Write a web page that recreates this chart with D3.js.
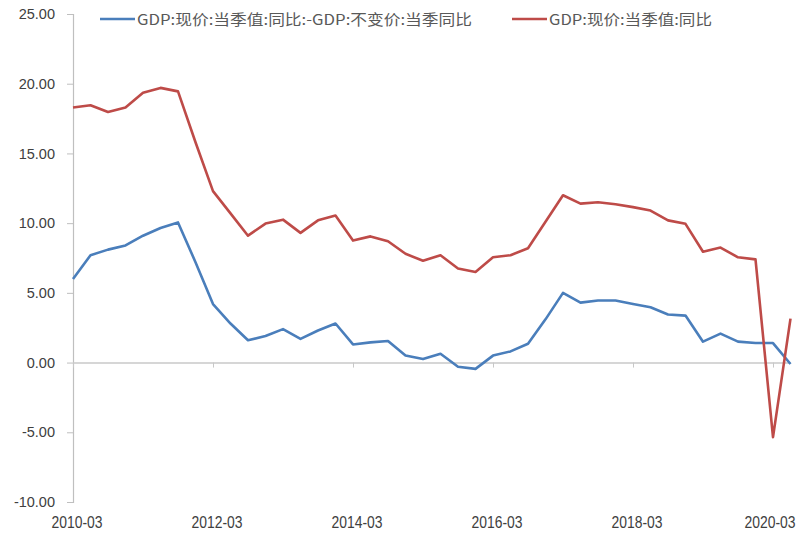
<!DOCTYPE html>
<html>
<head>
<meta charset="utf-8">
<script src="https://cdn.jsdelivr.net/npm/d3@7"></script>
<style>
  body { margin: 0; background: #fff; }
  svg { display: block; }
</style>
</head>
<body>
<div id="chart"></div>
<script>
// 季度
const quarters = [
  '2010-03','2010-06','2010-09','2010-12','2011-03','2011-06','2011-09','2011-12',
  '2012-03','2012-06','2012-09','2012-12','2013-03','2013-06','2013-09','2013-12',
  '2014-03','2014-06','2014-09','2014-12','2015-03','2015-06','2015-09','2015-12',
  '2016-03','2016-06','2016-09','2016-12','2017-03','2017-06','2017-09','2017-12',
  '2018-03','2018-06','2018-09','2018-12','2019-03','2019-06','2019-09','2019-12',
  '2020-03','2020-06'
];

// GDP:现价:当季值:同比 - GDP:不变价:当季同比
const diffSeries = [
  6.0, 7.7, 8.1, 8.4, 9.1, 9.65, 10.05, 7.2,
  4.2, 2.8, 1.6, 1.9, 2.4, 1.7, 2.3, 2.8,
  1.3, 1.45, 1.55, 0.5, 0.25, 0.63, -0.3, -0.45,
  0.5, 0.8, 1.35, 3.1, 5.0, 4.3, 4.45, 4.45,
  4.2, 3.97, 3.45, 3.37, 1.5, 2.08, 1.5, 1.4,
  1.4, -0.1
];

// GDP:现价:当季值:同比
const nominalSeries = [
  18.3, 18.45, 17.97, 18.3, 19.36, 19.7, 19.45, 15.8,
  12.3, 10.7, 9.1, 9.97, 10.25, 9.3, 10.2, 10.55,
  8.75, 9.05, 8.7, 7.8, 7.3, 7.7, 6.75, 6.5,
  7.55, 7.7, 8.2, 10.1, 12.0, 11.4, 11.5, 11.35,
  11.15, 10.9, 10.2, 9.95, 7.95, 8.25, 7.55, 7.4,
  -5.35, 3.15
];

const yTicks = [25, 20, 15, 10, 5, 0, -5, -10];
const xTickLabels = ['2010-03', '2012-03', '2014-03', '2016-03', '2018-03', '2020-03'];

const seriesNames = ['GDP:现价:当季值:同比:-GDP:不变价:当季同比', 'GDP:现价:当季值:同比'];

const width = 802;
const height = 537;

const svg = d3.select('#chart')
  .append('svg')
  .attr('width', width)
  .attr('height', height);

const x = d3.scalePoint()
  .domain(quarters)
  .range([73, 790.5])
  .padding(0);

const y = d3.scaleLinear()
  .domain([-10, 25])
  .range([502, 14]);

// y axis
const yAxis = d3.axisLeft(y)
  .tickValues(yTicks)
  .tickSize(6)
  .tickPadding(12)
  .tickFormat(d => d.toFixed(2));

const gy = svg.append('g')
  .attr('transform', 'translate(73,0)')
  .call(yAxis);
gy.select('.domain').attr('stroke', '#bfbfbf').attr('stroke-width', 1.2);
gy.selectAll('.tick line').attr('stroke', '#bfbfbf');
gy.selectAll('.tick text')
  .attr('fill', '#404040')
  .style('font-family', '"Liberation Sans", Arial, sans-serif')
  .style('font-size', '14.5px');

// x axis at zero line
const xAxis = d3.axisBottom(x)
  .tickValues(xTickLabels)
  .tickSize(5)
  .tickFormat('');

const gx = svg.append('g')
  .attr('transform', `translate(0,${y(0)})`)
  .call(xAxis);
gx.select('.domain').attr('stroke', '#c8c8c8').attr('stroke-width', 1.5)
  .attr('d', `M73,0.5H790.5`);
gx.selectAll('.tick line').attr('stroke', '#c8c8c8');

// x labels at bottom (low position), condensed like the original
svg.append('g')
  .selectAll('text')
  .data(xTickLabels)
  .enter()
  .append('text')
  .attr('x', d => Math.min(x(d) + 4, 770))
  .attr('y', 528)
  .attr('text-anchor', 'middle')
  .attr('fill', '#404040')
  .attr('textLength', 51)
  .attr('lengthAdjust', 'spacingAndGlyphs')
  .style('font-family', '"Liberation Sans", Arial, sans-serif')
  .style('font-size', '16px')
  .text(d => d);

// lines
const line = d3.line()
  .x((d, i) => x(quarters[i]))
  .y(d => y(d));

svg.append('path')
  .datum(diffSeries)
  .attr('fill', 'none')
  .attr('stroke', '#4a7ebb')
  .attr('stroke-width', 2.6)
  .attr('stroke-linejoin', 'round')
  .attr('d', line);

svg.append('path')
  .datum(nominalSeries)
  .attr('fill', 'none')
  .attr('stroke', '#be4b48')
  .attr('stroke-width', 2.6)
  .attr('stroke-linejoin', 'round')
  .attr('d', line);

// legend
const legendItems = [
  { name: seriesNames[0], color: '#4a7ebb', x: 100, len: 335 },
  { name: seriesNames[1], color: '#be4b48', x: 512, len: 163 }
];

const legend = svg.append('g');
legendItems.forEach(item => {
  legend.append('line')
    .attr('x1', item.x)
    .attr('x2', item.x + 35)
    .attr('y1', 19)
    .attr('y2', 19)
    .attr('stroke', item.color)
    .attr('stroke-width', 2.6);
  legend.append('text')
    .attr('x', item.x + 37)
    .attr('y', 24.5)
    .attr('fill', '#595959')
    .attr('textLength', item.len)
    .attr('lengthAdjust', 'spacingAndGlyphs')
    .style('font-family', '"Noto Sans CJK SC", sans-serif')
    .style('font-size', '14.5px')
    .text(item.name);
});
</script>
</body>
</html>
